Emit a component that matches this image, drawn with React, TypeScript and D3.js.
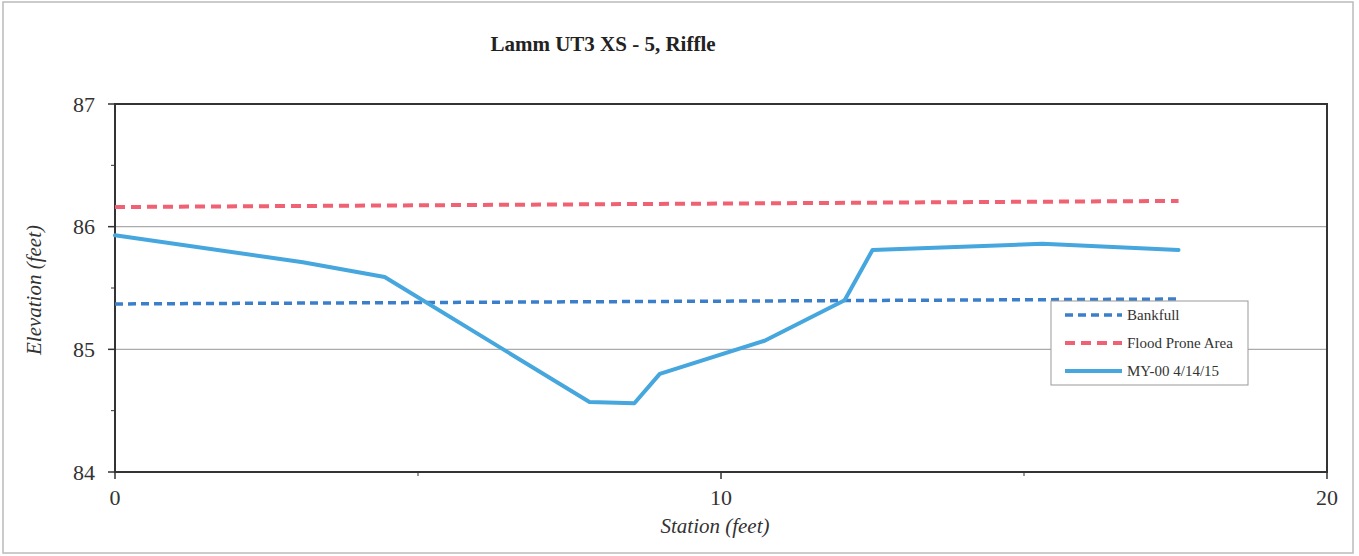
import React from 'react'
import * as d3 from 'd3'

// MY-00 survey (station, elevation)
const stations = [0, 3.1, 4.45, 7.83, 8.57, 8.99, 10.72, 12.04, 12.5, 15.3, 17.55]
const elevations = [85.93, 85.71, 85.59, 84.57, 84.56, 84.8, 85.07, 85.4, 85.81, 85.86, 85.81]

// bankfull / flood prone lines (start and end)
const bankfullX = [0, 17.55]
const bankfullY = [85.37, 85.41]
const floodX = [0, 17.55]
const floodY = [86.16, 86.21]

const xTicks = [0, 10, 20]
const yTicks = [84, 85, 86, 87]
const legendLabels = ['Bankfull', 'Flood Prone Area', 'MY-00 4/14/15']

const W = 1359, H = 556
const left = 115, right = 1327, top = 104, bottom = 472
const serif = '"Liberation Serif", "Times New Roman", serif'

export default function App() {
  const x = d3.scaleLinear().domain([0, 20]).range([left, right])
  const y = d3.scaleLinear().domain([84, 87]).range([bottom, top])
  const line = d3.line<[number, number]>().x(d => x(d[0])).y(d => y(d[1]))

  const survey = stations.map((s, i) => [s, elevations[i]] as [number, number])
  const bank = bankfullX.map((s, i) => [s, bankfullY[i]] as [number, number])
  const flood = floodX.map((s, i) => [s, floodY[i]] as [number, number])

  const minorY = d3.range(84.5, 87, 1)
  const minorX = [5, 15]

  const styles = [
    { stroke: '#3b7fcb', dash: '8 5', width: 3.5 },
    { stroke: '#ef6173', dash: '10 6', width: 4 },
    { stroke: '#46a6de', dash: '', width: 4 },
  ]
  const lx = 1051, ly = 301, lw = 197, lh = 84

  return (
    <svg width={W} height={H} style={{ position: 'absolute', left: 0, top: 0, background: '#fff' }}>
      <rect x={3} y={2} width={1350} height={551} fill="none" stroke="#bbb" strokeWidth={1.5} />
      <text x={603} y={51} textAnchor="middle" fontFamily={serif} fontWeight="bold" fontSize={21} fill="#222">
        Lamm UT3 XS - 5, Riffle
      </text>

      {/* gridlines */}
      {yTicks.slice(1, -1).map(t => (
        <line key={t} x1={left} x2={right} y1={y(t)} y2={y(t)} stroke="#aaa" strokeWidth={1.2} />
      ))}

      {/* plot frame */}
      <rect x={left} y={top} width={right - left} height={bottom - top} fill="none" stroke="#333" strokeWidth={2} />

      {/* y ticks */}
      {yTicks.map(t => (
        <g key={t}>
          <line x1={left - 7} x2={left} y1={y(t)} y2={y(t)} stroke="#333" strokeWidth={1.5} />
          <text x={95} y={y(t)} dy="0.35em" textAnchor="end" fontFamily={serif} fontSize={22} fill="#333">{t}</text>
        </g>
      ))}
      {minorY.map(t => (
        <line key={t} x1={left - 4} x2={left} y1={y(t)} y2={y(t)} stroke="#333" strokeWidth={1} />
      ))}

      {/* x ticks */}
      {xTicks.map(t => (
        <g key={t}>
          <line x1={x(t)} x2={x(t)} y1={bottom} y2={bottom + 7} stroke="#333" strokeWidth={1.5} />
          <text x={x(t)} y={505} textAnchor="middle" fontFamily={serif} fontSize={22} fill="#333">{t}</text>
        </g>
      ))}
      {minorX.map(t => (
        <line key={t} x1={x(t)} x2={x(t)} y1={bottom} y2={bottom + 4} stroke="#333" strokeWidth={1} />
      ))}

      {/* axis titles */}
      <text x={715} y={533} textAnchor="middle" fontFamily={serif} fontStyle="italic" fontSize={21} fill="#333">
        Station (feet)
      </text>
      <text transform={`translate(41,290) rotate(-90)`} textAnchor="middle" fontFamily={serif} fontStyle="italic" fontSize={21} fill="#333">
        Elevation (feet)
      </text>

      {/* series */}
      <path d={line(flood) ?? ''} fill="none" stroke={styles[1].stroke} strokeWidth={styles[1].width} strokeDasharray={styles[1].dash} />
      <path d={line(bank) ?? ''} fill="none" stroke={styles[0].stroke} strokeWidth={styles[0].width} strokeDasharray={styles[0].dash} />
      <path d={line(survey) ?? ''} fill="none" stroke={styles[2].stroke} strokeWidth={styles[2].width} strokeLinejoin="round" strokeLinecap="round" />

      {/* legend */}
      <rect x={lx} y={ly} width={lw} height={lh} fill="#fff" stroke="#999" strokeWidth={1} />
      {legendLabels.map((lab, i) => {
        const yy = ly + 14 + i * 28
        const s = styles[i]
        return (
          <g key={lab}>
            <line x1={lx + 14} x2={lx + 71} y1={yy} y2={yy} stroke={s.stroke} strokeWidth={s.width} strokeDasharray={s.dash} />
            <text x={lx + 76} y={yy} dy="0.35em" fontFamily={serif} fontSize={15} fill="#333">{lab}</text>
          </g>
        )
      })}
    </svg>
  )
}
